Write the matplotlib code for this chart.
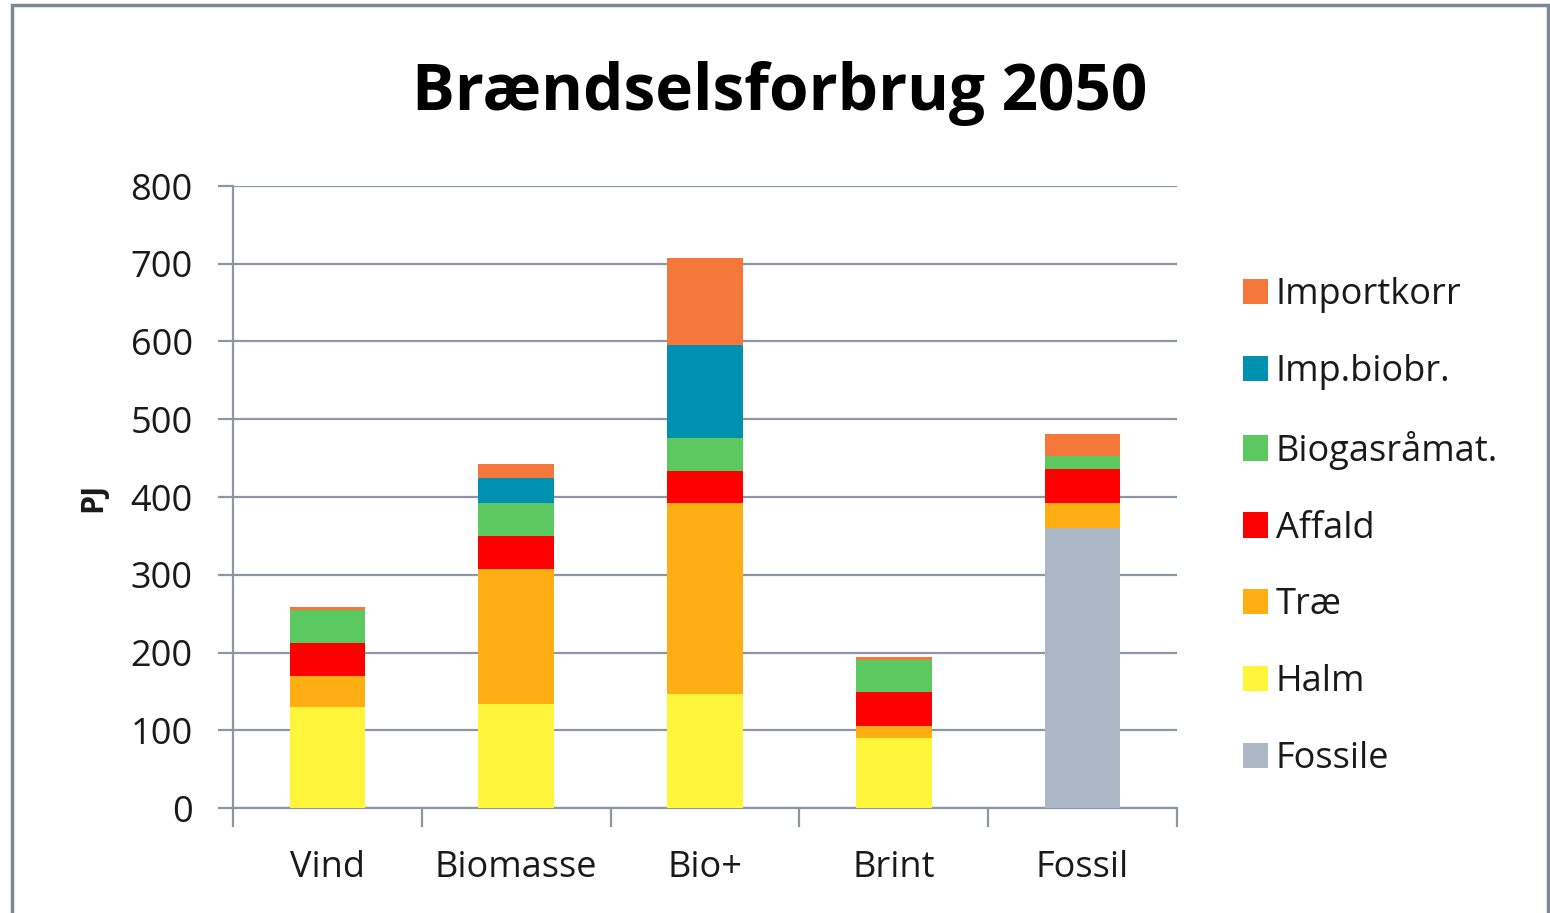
import numpy as np
import matplotlib.pyplot as plt
from matplotlib.patches import Rectangle

# Brændselsforbrug pr. scenarie (PJ)
scenarier = ["Vind", "Biomasse", "Bio+", "Brint", "Fossil"]
fossile = [0, 0, 0, 0, 360]
halm = [130, 134, 146, 90, 0]
trae = [40, 173, 246, 16, 32]
affald = [42, 43, 42, 43, 44]
biogas = [43, 42, 42, 41, 17]
imp_biobr = [0, 32, 119, 0, 0]
importkorr = [3, 18, 113, 4, 28]

serier = [
    ("Fossile", fossile, "#adb8c6"),
    ("Halm", halm, "#fff53b"),
    ("Træ", trae, "#ffae14"),
    ("Affald", affald, "#ff0000"),
    ("Biogasråmat.", biogas, "#5bc95f"),
    ("Imp.biobr.", imp_biobr, "#0091b1"),
    ("Importkorr", importkorr, "#f4773b"),
]

plt.rcParams["font.family"] = ["Open Sans", "DejaVu Sans"]
tekst = "#1a1a1a"
gitter = "#8d97a3"

fig = plt.figure(figsize=(15.5, 9.13), dpi=100)
fig.patches.append(Rectangle((12 / 1550, -0.05), 1536 / 1550, 1.05 - 5 / 913,
                             transform=fig.transFigure, fill=False,
                             edgecolor="#7d8893", linewidth=2.5))

ax = fig.add_axes([233 / 1550, 1 - 808 / 913, 944 / 1550, 622 / 913])

x = np.arange(len(scenarier))
bund = np.zeros(len(scenarier))
handles = []
for navn, vaerdier, farve in serier:
    h = ax.bar(x, vaerdier, width=0.4, bottom=bund, color=farve, label=navn, zorder=3)
    handles.append(h)
    bund += np.array(vaerdier)

ax.set_xlim(-0.5, len(scenarier) - 0.5)
ax.set_ylim(0, 800)
ax.set_yticks(range(0, 801, 100))
ax.grid(axis="y", color=gitter, linewidth=1.6, zorder=0)

for side in ["top", "right"]:
    ax.spines[side].set_visible(False)
for side in ["left", "bottom"]:
    ax.spines[side].set_color(gitter)
    ax.spines[side].set_linewidth(1.6)

# Kategori-skillelinjer under x-aksen
ax.set_xticks(np.arange(-0.5, len(scenarier)), minor=False)
ax.set_xticklabels([])
ax.tick_params(axis="x", length=14, width=1.6, color=gitter, direction="out")
ax.set_xticks(x, minor=True)
ax.set_xticklabels(scenarier, minor=True)
ax.tick_params(axis="x", which="minor", length=0, pad=30, labelsize=26, labelcolor=tekst)
ax.tick_params(axis="y", length=11, width=1.6, color=gitter, pad=18,
               labelsize=26, labelcolor=tekst)

ax.set_ylabel("PJ", fontsize=22, fontweight="bold", color=tekst, labelpad=16)

fig.text(780 / 1550, 1 - 94 / 913, "Brændselsforbrug 2050", ha="center", va="center",
         fontsize=46, fontweight="bold", color="#000000")

leg = fig.legend(handles[::-1], [s[0] for s in serier][::-1],
                 loc="center left", bbox_to_anchor=(1243 / 1550, 1 - 527 / 913),
                 frameon=False, fontsize=26, handlelength=0.7, handleheight=0.7,
                 handletextpad=0.2, labelspacing=1.13, labelcolor=tekst,
                 borderpad=0, borderaxespad=0)

fig.savefig("out.png", dpi=100, facecolor="white")
